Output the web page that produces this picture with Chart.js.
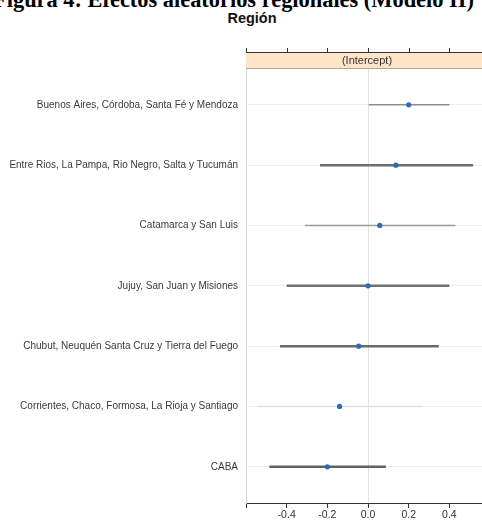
<!DOCTYPE html>
<html>
<head>
<meta charset="utf-8">
<script src="https://cdn.jsdelivr.net/npm/chart.js@4"></script>
<style>
    html, body {
        margin: 0;
        padding: 0;
        background: #ffffff;
        overflow: hidden;
        width: 482px;
        height: 527px;
    }
    #figTitle {
        position: absolute;
        left: -20px;
        width: 507px;
        top: -11px;
        text-align: center;
        font-family: 'Liberation Serif', 'DejaVu Serif', serif;
        font-weight: bold;
        font-size: 22.4px;
        line-height: 22px;
        color: #000;
        white-space: nowrap;
    }
    #mainTitle {
        position: absolute;
        left: 2px;
        width: 500px;
        top: 11px;
        text-align: center;
        font-family: 'Liberation Sans', Arial, sans-serif;
        font-weight: bold;
        font-size: 14.5px;
        line-height: 14px;
        color: #111;
    }
    #chartCanvas {
        position: absolute;
        left: 0;
        top: 0;
    }
</style>
</head>
<body>
<div id="figTitle">Figura 4: Efectos aleatorios regionales (Modelo II)</div>
<div id="mainTitle">Región</div>
<canvas id="chartCanvas" width="492" height="527"></canvas>
<script>
// Data (random intercepts per region, with intervals)
const regions = [
    'Buenos Aires, Córdoba, Santa Fé y Mendoza',
    'Entre Rios, La Pampa, Rio Negro, Salta y Tucumán',
    'Catamarca y San Luis',
    'Jujuy, San Juan y Misiones',
    'Chubut, Neuquén Santa Cruz y Tierra del Fuego',
    'Corrientes, Chaco, Formosa, La Rioja y Santiago',
    'CABA'
];
const estimates = [0.200, 0.137, 0.058, 0.000, -0.046, -0.140, -0.200];
const lower = [0.003, -0.236, -0.310, -0.400, -0.433, -0.540, -0.485];
const upper = [0.400, 0.517, 0.430, 0.400, 0.348, 0.263, 0.088];

const xTicks = [-0.6, -0.4, -0.2, 0, 0.2, 0.4];
const xTickLabels = ['', '-0.4', '-0.2', '0.0', '0.2', '0.4'];
const stripLabel = '(Intercept)';

// Line styles for each interval (as they appear in the picture)
const intervalColors = ['#8c8c8c', '#6e6e6e', '#9c9c9c', '#707070', '#6a6a6a', '#e0e0e0', '#626262'];
const intervalWidths = [1.5, 2.5, 1.5, 2.5, 2.5, 1.5, 2.5];

const labelFont = { family: "'Liberation Sans', Arial, sans-serif", size: 10 };

/**
 * Draws the horizontal interval segments under the points
 */
const intervalPlugin = {
    id: 'intervals',
    beforeDatasetsDraw(chart) {
        const ctx = chart.ctx;
        const xs = chart.scales.x;
        const ys = chart.scales.y;
        ctx.save();
        ctx.lineCap = 'butt';
        regions.forEach((r, i) => {
            const y = ys.getPixelForValue(i);
            ctx.beginPath();
            ctx.strokeStyle = intervalColors[i];
            ctx.lineWidth = intervalWidths[i];
            ctx.moveTo(xs.getPixelForValue(lower[i]), y);
            ctx.lineTo(xs.getPixelForValue(upper[i]), y);
            ctx.stroke();
        });
        ctx.restore();
    }
};

/**
 * Draws the lattice strip and the top axis ticks
 */
const stripPlugin = {
    id: 'strip',
    afterDraw(chart) {
        const ctx = chart.ctx;
        const area = chart.chartArea;
        const xs = chart.scales.x;
        const stripTop = area.top - 15;
        ctx.save();
        ctx.fillStyle = '#ffe4c8';
        ctx.fillRect(area.left, stripTop, area.right - area.left, area.top - stripTop);
        ctx.strokeStyle = '#b0a89c';
        ctx.lineWidth = 1;
        ctx.beginPath();
        ctx.moveTo(area.left, area.top + 0.5);
        ctx.lineTo(area.right, area.top + 0.5);
        ctx.stroke();
        // top axis line and ticks
        ctx.strokeStyle = '#333';
        ctx.beginPath();
        ctx.moveTo(area.left, stripTop - 0.5);
        ctx.lineTo(area.right, stripTop - 0.5);
        xTicks.forEach(v => {
            const x = Math.round(xs.getPixelForValue(v)) + 0.5;
            ctx.moveTo(x, stripTop);
            ctx.lineTo(x, stripTop - 5);
        });
        ctx.stroke();
        ctx.fillStyle = '#333';
        ctx.font = "11px 'Liberation Sans', Arial, sans-serif";
        ctx.textAlign = 'center';
        ctx.textBaseline = 'middle';
        ctx.fillText(stripLabel, (area.left + area.right) / 2, (stripTop + area.top) / 2 + 0.5);
        ctx.restore();
    }
};

const points = estimates.map((v, i) => ({ x: v, y: i }));

const chart = new Chart(document.getElementById('chartCanvas').getContext('2d'), {
    type: 'scatter',
    data: {
        datasets: [{
            label: stripLabel,
            data: points,
            backgroundColor: '#2c6cb4',
            borderColor: '#2c6cb4',
            borderWidth: 0,
            pointRadius: 2.6
        }]
    },
    plugins: [intervalPlugin, stripPlugin],
    options: {
        responsive: false,
        animation: false,
        events: [],
        layout: {
            padding: { top: 68, right: 2, left: 0, bottom: 0 }
        },
        plugins: {
            legend: { display: false },
            tooltip: { enabled: false }
        },
        scales: {
            x: {
                type: 'linear',
                min: -0.6,
                max: 0.59,
                afterBuildTicks: scale => {
                    scale.ticks = xTicks.map(v => ({ value: v }));
                },
                afterFit: scale => {
                    scale.height = 24;
                },
                ticks: {
                    color: '#333',
                    font: { family: labelFont.family, size: 10.5 },
                    padding: 1,
                    maxRotation: 0,
                    autoSkip: false,
                    callback: (value) => {
                        const idx = xTicks.findIndex(t => Math.abs(t - value) < 1e-9);
                        return idx >= 0 ? xTickLabels[idx] : '';
                    }
                },
                grid: {
                    color: ctx => (ctx.tick && ctx.tick.value === 0) ? '#e3e3e3' : 'rgba(0,0,0,0)',
                    tickColor: '#333',
                    tickLength: 5,
                    lineWidth: 1
                },
                border: { display: true, color: '#333', width: 1 }
            },
            y: {
                type: 'linear',
                min: -0.61,
                max: 6.6,
                reverse: true,
                afterBuildTicks: scale => {
                    scale.ticks = regions.map((r, i) => ({ value: i }));
                },
                afterFit: scale => {
                    scale.width = 246;
                },
                ticks: {
                    color: '#3a3a3a',
                    font: labelFont,
                    padding: 8,
                    autoSkip: false,
                    callback: (value) => regions[value] || ''
                },
                grid: {
                    color: '#ededed',
                    drawTicks: false,
                    lineWidth: 1
                },
                border: { display: true, color: '#d8d8d8', width: 1 }
            }
        }
    }
});
</script>
</body>
</html>
